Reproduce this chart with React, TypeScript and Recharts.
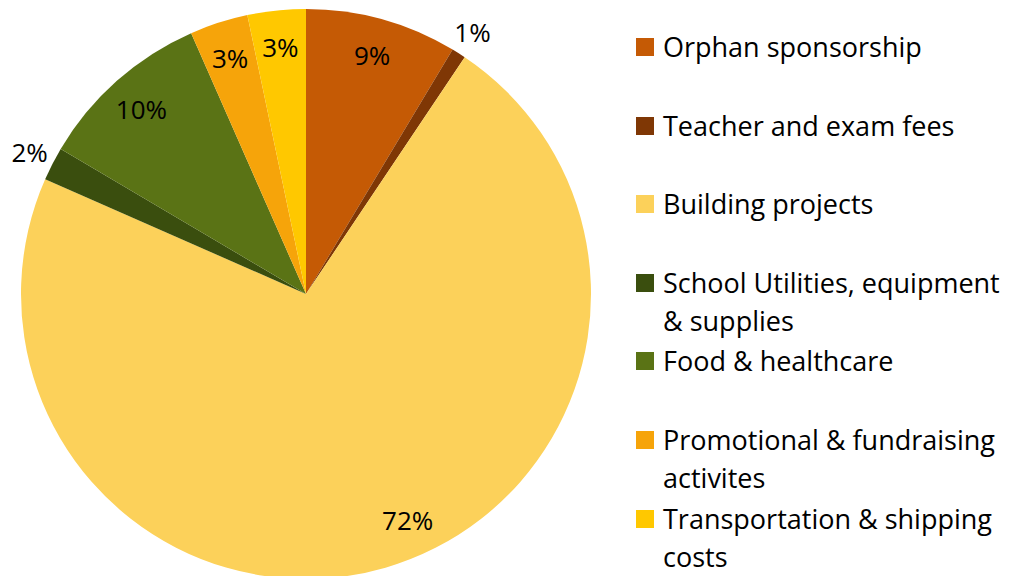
import { Cell, Legend, Pie, PieChart } from "recharts"

const categories = [
  "Orphan sponsorship",
  "Teacher and exam fees",
  "Building projects",
  "School Utilities, equipment & supplies",
  "Food & healthcare",
  "Promotional & fundraising activites",
  "Transportation & shipping costs",
]
const shares = [8.6, 0.8, 72.2, 1.9, 9.9, 3.3, 3.3]
const colors = ["#C55A05", "#7F3705", "#FCD15A", "#3A4E0E", "#5A7315", "#F6A40A", "#FFC800"]

const data = categories.map((name, i) => ({ name, value: shares[i] }))

const FONT = "'Open Sans', 'Noto Sans', sans-serif"
const RAD = Math.PI / 180

const renderLabel = (props: any) => {
  const { cx, cy, midAngle, outerRadius, percent } = props
  const small = percent < 0.02
  const r = small ? outerRadius * 1.09 : outerRadius * 0.87
  // the big slice's label sits a bit off its middle, like the original
  const a = percent > 0.5 ? midAngle + 8 : midAngle
  const x = cx + r * Math.cos(-a * RAD)
  const y = cy + r * Math.sin(-a * RAD)
  return (
    <text
      x={x}
      y={y}
      textAnchor="middle"
      dominantBaseline="central"
      fill="#000"
      fontSize={26}
      fontFamily={FONT}
    >
      {`${Math.round(percent * 100)}%`}
    </text>
  )
}

// legend keeps the series order (recharts would sort it by name)
const renderLegend = () => (
  <div style={{ position: "relative", width: 385, height: 568, fontFamily: FONT }}>
    {categories.map((name, i) => (
      <div
        key={name}
        style={{
          position: "absolute",
          top: 20 + i * 78.6,
          left: 0,
          display: "flex",
          alignItems: "flex-start",
        }}
      >
        <div
          style={{
            width: 18,
            height: 18,
            marginTop: 10,
            marginRight: 9,
            background: colors[i],
            flexShrink: 0,
          }}
        />
        <div style={{ fontSize: 27, lineHeight: "38px", color: "#000", width: 356 }}>
          {name}
        </div>
      </div>
    ))}
  </div>
)

export default function App() {
  return (
    <PieChart width={1013} height={568} margin={{ top: 0, right: 0, bottom: 0, left: 0 }}>
      <Pie
        data={data}
        dataKey="value"
        nameKey="name"
        cx={298}
        cy={286}
        outerRadius={285}
        startAngle={90}
        endAngle={-270}
        stroke="none"
        label={renderLabel}
        labelLine={false}
        isAnimationActive={false}
      >
        {data.map((d, i) => (
          <Cell key={d.name} fill={colors[i]} />
        ))}
      </Pie>
      <Legend
        content={renderLegend}
        wrapperStyle={{ left: 628, top: 0, width: 385, height: 568 }}
      />
    </PieChart>
  )
}
